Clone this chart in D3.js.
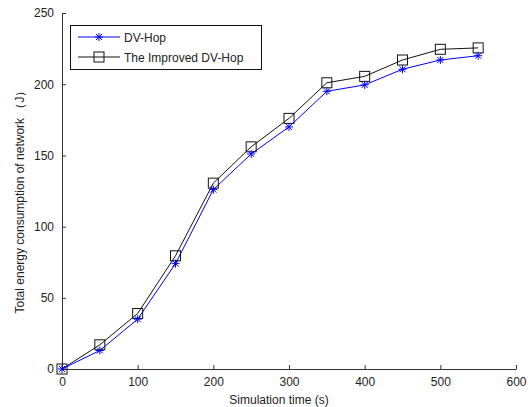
<!DOCTYPE html>
<meta charset="utf-8" />
<style>
  body { margin: 0; background: #fff; }
  text { font-family: "Liberation Sans", Arial, sans-serif; font-size: 12px; fill: #222; }
  .axis path, .axis line { stroke: #333; }
</style>
<body>
  <div id="chart"></div>
  <script src="https://d3js.org/d3.v7.min.js"></script>
  <script>
    const times = [0, 50, 100, 150, 200, 250, 300, 350, 400, 450, 500, 550];
    const dvHop = [0, 13, 35, 74, 126, 151, 170, 195, 199.5, 210.5, 217, 220];
    const improved = [0, 17, 39, 79.5, 130.5, 156, 176, 201, 205.5, 217, 224.5, 225.5];
    const xTicks = [0, 100, 200, 300, 400, 500, 600];
    const yTicks = [0, 50, 100, 150, 200, 250];

    const width = 528, height = 407;
    const margin = { left: 62, right: 12, top: 13, bottom: 38 };

    const svg = d3.select("#chart").append("svg")
      .attr("width", width).attr("height", height);

    const x = d3.scaleLinear().domain([0, 600]).range([margin.left, width - margin.right]);
    const y = d3.scaleLinear().domain([0, 250]).range([height - margin.bottom, margin.top]);

    svg.append("g").attr("class", "axis")
      .attr("transform", `translate(0,${y(0)})`)
      .call(d3.axisBottom(x).tickValues(xTicks).tickSize(-4).tickPadding(8).tickSizeOuter(0))
      .call(g => g.selectAll("text").attr("fill", "#222"));

    svg.append("g").attr("class", "axis")
      .attr("transform", `translate(${x(0)},0)`)
      .call(d3.axisLeft(y).tickValues(yTicks).tickSize(-4).tickPadding(8).tickSizeOuter(0))
      .call(g => g.selectAll("text").attr("fill", "#222"));

    svg.append("text")
      .attr("x", x(300) - 10).attr("y", 404)
      .attr("text-anchor", "middle")
      .text("Simulation time (s)");

    svg.append("text")
      .attr("transform", `translate(24,${(y(0) + y(250)) / 2 + 8}) rotate(-90)`)
      .attr("text-anchor", "middle")
      .text("Total energy consumption of network （J）");

    const line = d3.line().x((d, i) => x(times[i])).y(d => y(d));

    const star = (g, cx, cy, color) => {
      const r = 4;
      const p = g.append("g").attr("stroke", color).attr("stroke-width", 1);
      p.append("line").attr("x1", cx - r).attr("x2", cx + r).attr("y1", cy).attr("y2", cy);
      p.append("line").attr("x1", cx).attr("x2", cx).attr("y1", cy - r).attr("y2", cy + r);
      p.append("line").attr("x1", cx - 3).attr("x2", cx + 3).attr("y1", cy - 3).attr("y2", cy + 3);
      p.append("line").attr("x1", cx - 3).attr("x2", cx + 3).attr("y1", cy + 3).attr("y2", cy - 3);
    };
    const square = (g, cx, cy) => {
      g.append("rect").attr("x", cx - 5).attr("y", cy - 5).attr("width", 10).attr("height", 10)
        .attr("fill", "none").attr("stroke", "#111").attr("stroke-width", 1);
    };

    svg.append("path").datum(improved).attr("d", line)
      .attr("fill", "none").attr("stroke", "#111").attr("stroke-width", 1);
    svg.append("path").datum(dvHop).attr("d", line)
      .attr("fill", "none").attr("stroke", "#0000ff").attr("stroke-width", 1);

    const marks = svg.append("g");
    improved.forEach((v, i) => square(marks, x(times[i]), y(v)));
    dvHop.forEach((v, i) => star(marks, x(times[i]), y(v), "#0000ff"));

    // legend
    const lg = svg.append("g");
    lg.append("rect").attr("x", 70.5).attr("y", 25.5).attr("width", 191).attr("height", 44)
      .attr("fill", "#fff").attr("stroke", "#111");
    lg.append("line").attr("x1", 78).attr("x2", 120).attr("y1", 37).attr("y2", 37)
      .attr("stroke", "#0000ff");
    star(lg, 99, 37, "#0000ff");
    lg.append("text").attr("x", 124).attr("y", 41.5).text("DV-Hop");
    lg.append("line").attr("x1", 78).attr("x2", 120).attr("y1", 57).attr("y2", 57)
      .attr("stroke", "#111");
    square(lg, 99, 57);
    lg.append("text").attr("x", 124).attr("y", 61.5).text("The Improved DV-Hop");
  </script>
</body>
